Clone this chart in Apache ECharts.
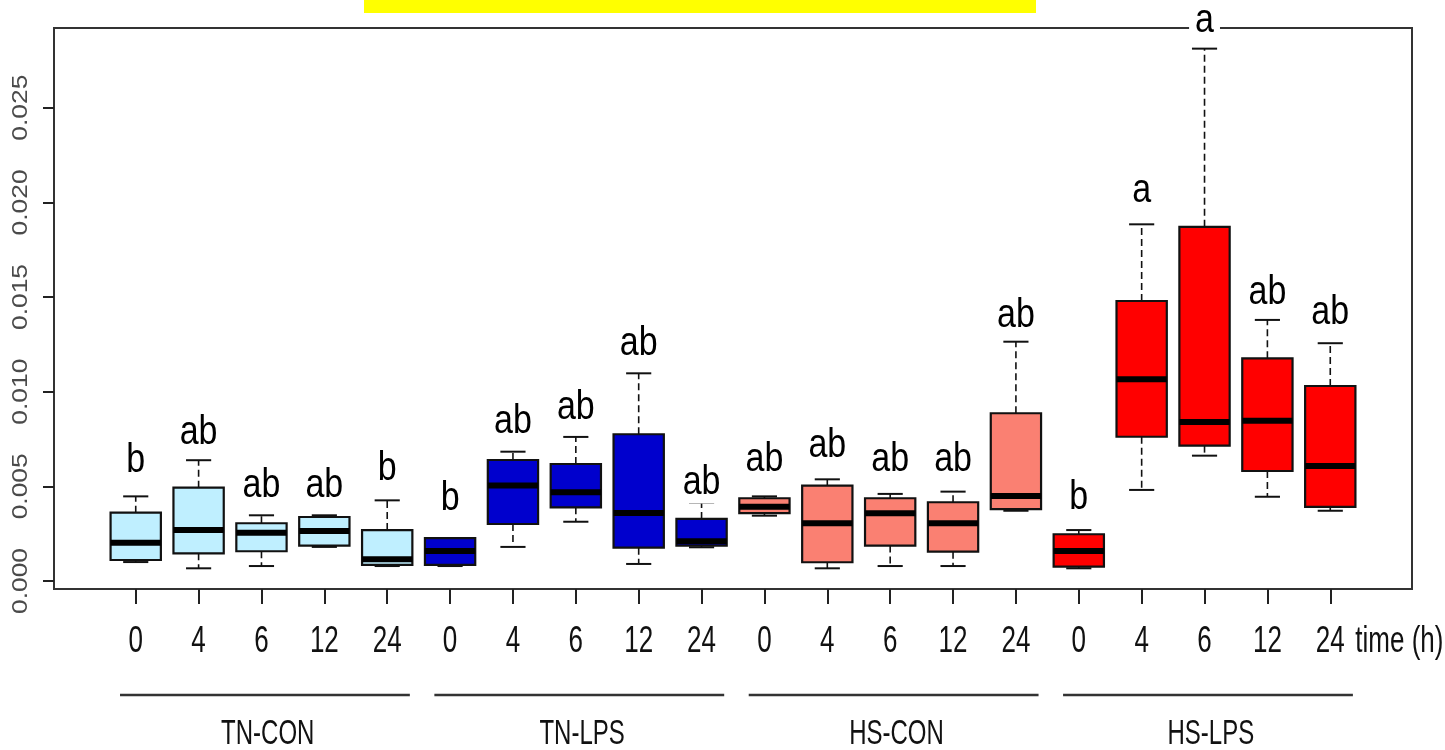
<!DOCTYPE html>
<html><head><meta charset="utf-8">
<script src="https://cdn.jsdelivr.net/npm/echarts@6/dist/echarts.min.js"></script>
<style>html,body{margin:0;padding:0;background:#fff}#c{width:1445px;height:750px}</style>
</head><body><div id="c"></div>
<script>
// ---- data ----
const groups = ['TN-CON', 'TN-LPS', 'HS-CON', 'HS-LPS'];
const groupColors = ['#BFEFFF', '#0000CD', '#FA8072', '#FF0000'];
const timeLabels = ['0', '4', '6', '12', '24'];
const whiskerLow  = [0.00100,0.00067,0.00079,0.00180,0.00079, 0.00079,0.00180,0.00313,0.00090,0.00178, 0.00345,0.00067,0.00079,0.00079,0.00371, 0.00067,0.00481,0.00662,0.00445,0.00371];
const q1          = [0.00111,0.00146,0.00157,0.00187,0.00085, 0.00085,0.00301,0.00389,0.00176,0.00187, 0.00358,0.00099,0.00187,0.00155,0.00380, 0.00076,0.00762,0.00715,0.00581,0.00392];
const median      = [0.00202,0.00269,0.00255,0.00264,0.00115, 0.00158,0.00505,0.00469,0.00359,0.00210, 0.00392,0.00305,0.00358,0.00305,0.00449, 0.00158,0.01065,0.00840,0.00847,0.00607];
const q3          = [0.00361,0.00493,0.00305,0.00338,0.00269, 0.00226,0.00639,0.00618,0.00775,0.00328, 0.00437,0.00504,0.00437,0.00416,0.00886, 0.00247,0.01479,0.01871,0.01176,0.01030];
const whiskerHigh = [0.00447,0.00638,0.00347,0.00347,0.00426, 0.00226,0.00683,0.00761,0.01097,0.00414, 0.00447,0.00537,0.00460,0.00472,0.01264, 0.00269,0.01884,0.02812,0.01379,0.01256];
const letters = ['b','ab','ab','ab','b', 'b','ab','ab','ab','ab', 'ab','ab','ab','ab','ab', 'b','a','a','ab','ab'];
const letterY = [0.00560,0.00708,0.00428,0.00428,0.00518, 0.00359,0.00766,0.00841,0.01178,0.00445, 0.00570,0.00639,0.00570,0.00570,0.01326, 0.00366,0.01991,0.02885,0.01449,0.01342];
const yTicks = [0, 0.005, 0.010, 0.015, 0.020, 0.025];
const timeAxisName = 'time (h)';

// ---- build ----
const positions = whiskerLow.map((_, i) => i + 1);
const boxData = positions.map((p, i) => [p, whiskerLow[i], q1[i], median[i], q3[i], whiskerHigh[i], Math.floor(i / 5)]);
const letterData = positions.map((p, i) => [p, letterY[i]]);
const groupData = groups.map((g, gi) => [gi]);
const Y_MIN = -0.000423, Y_MAX = 0.02921;
const X_MIN = -0.3, X_MAX = 21.3;
const namePos = 21.1;
const xLabelData = positions.concat([namePos]).map(v => [v]);
const yLabelData = yTicks.map(v => [X_MIN, v]);
const FONT = '"Liberation Sans", Arial, sans-serif';

const chart = echarts.init(document.getElementById('c'), null, {renderer: 'canvas'});

function renderBox(params, api) {
  const x = api.value(0);
  const lo = api.value(1), a = api.value(2), m = api.value(3), b = api.value(4), hi = api.value(5);
  const col = groupColors[api.value(6)];
  const hw = 0.4, cw = 0.2;
  const c = (xx, yy) => api.coord([xx, yy]);
  const children = [];
  const dash = {stroke: '#111', lineWidth: 1.6, lineDash: [7, 4]};
  const solid = {stroke: '#111', lineWidth: 2};
  if (hi > b) {
    const p1 = c(x, b), p2 = c(x, hi);
    children.push({type: 'line', shape: {x1: p1[0], y1: p1[1], x2: p2[0], y2: p2[1]}, style: dash});
  }
  if (lo < a) {
    const p1 = c(x, a), p2 = c(x, lo);
    children.push({type: 'line', shape: {x1: p1[0], y1: p1[1], x2: p2[0], y2: p2[1]}, style: dash});
  }
  let l = c(x - cw, hi), r = c(x + cw, hi);
  children.push({type: 'line', shape: {x1: l[0], y1: l[1], x2: r[0], y2: r[1]}, style: solid});
  l = c(x - cw, lo); r = c(x + cw, lo);
  children.push({type: 'line', shape: {x1: l[0], y1: l[1], x2: r[0], y2: r[1]}, style: solid});
  const tl = c(x - hw, b), br = c(x + hw, a);
  children.push({type: 'rect', shape: {x: tl[0], y: tl[1], width: br[0] - tl[0], height: br[1] - tl[1]},
    style: {fill: col, stroke: '#111', lineWidth: 2.2}});
  l = c(x - hw, m); r = c(x + hw, m);
  children.push({type: 'line', shape: {x1: l[0], y1: l[1], x2: r[0], y2: r[1]}, style: {stroke: '#000', lineWidth: 6}});
  return {type: 'group', children};
}

function renderLetter(params, api) {
  const p = api.coord([api.value(0), api.value(1)]);
  return {
    type: 'text', x: p[0], y: p[1] - 14, scaleY: 1.22,
    style: {text: letters[params.dataIndex], font: '34px ' + FONT, fill: '#000',
      align: 'center', verticalAlign: 'middle', backgroundColor: '#fff', padding: [0, 6]}
  };
}

function renderXLabel(params, api) {
  const v = api.value(0);
  const p = api.coord([v, Y_MIN]);
  const txt = v > 20.5 ? timeAxisName : timeLabels[(Math.round(v) - 1) % 5];
  return {
    type: 'text', x: p[0], y: p[1] + 53, scaleY: 1.4,
    style: {text: txt, font: '26px ' + FONT, fill: '#111', align: 'center', verticalAlign: 'middle'}
  };
}

function renderYLabel(params, api) {
  const p = api.coord([api.value(0), api.value(1)]);
  return {
    type: 'text', x: p[0] - 33, y: p[1], rotation: Math.PI / 2, scaleX: 1.2,
    style: {text: api.value(1).toFixed(3), font: '22px ' + FONT, fill: '#4a4a4a', align: 'center', verticalAlign: 'middle'}
  };
}

function renderGroup(params, api) {
  const g = api.value(0);
  const x0 = api.coord([5 * g + 0.75, Y_MIN])[0];
  const x1 = api.coord([5 * g + 5.36, Y_MIN])[0];
  const xc = api.coord([5 * g + 3.1, Y_MIN])[0];
  const base = api.coord([0, Y_MIN])[1];
  return {type: 'group', children: [
    {type: 'line', shape: {x1: x0, y1: base + 106, x2: x1, y2: base + 106}, style: {stroke: '#333', lineWidth: 2.5}},
    {type: 'text', x: xc, y: base + 145, scaleY: 1.45,
      style: {text: groups[g], font: '24px ' + FONT, fill: '#111', align: 'center', verticalAlign: 'middle'}}
  ]};
}

chart.setOption({
  animation: false,
  backgroundColor: '#fff',
  textStyle: {fontFamily: FONT},
  graphic: [{type: 'rect', left: 364, top: 0, shape: {width: 672, height: 13}, style: {fill: '#FFFF00'}}],
  grid: {left: 54, right: 33, top: 28, bottom: 161, show: true, borderColor: '#333', borderWidth: 2, backgroundColor: '#fff'},
  xAxis: {
    type: 'value', min: X_MIN, max: X_MAX, position: 'bottom',
    axisLine: {show: false, onZero: false}, splitLine: {show: false},
    axisTick: {show: true, length: 15, lineStyle: {color: '#222', width: 2}, customValues: positions},
    axisLabel: {show: false}
  },
  yAxis: {
    type: 'value', min: Y_MIN, max: Y_MAX, position: 'left',
    axisLine: {show: false, onZero: false}, splitLine: {show: false},
    axisTick: {show: true, length: 11, lineStyle: {color: '#222', width: 2}, customValues: yTicks},
    axisLabel: {show: false}
  },
  series: [
    {type: 'custom', name: 'boxes', renderItem: renderBox, data: boxData, encode: {x: 0, y: [1, 2, 3, 4, 5]}, z: 2},
    {type: 'custom', name: 'letters', renderItem: renderLetter, data: letterData, encode: {x: 0, y: 1}, z: 3},
    {type: 'custom', name: 'xLabels', renderItem: renderXLabel, data: xLabelData, encode: {x: 0}, clip: false, z: 3},
    {type: 'custom', name: 'yLabels', renderItem: renderYLabel, data: yLabelData, encode: {x: 0, y: 1}, clip: false, z: 3},
    {type: 'custom', name: 'groups', renderItem: renderGroup, data: groupData, encode: {x: 0}, clip: false, z: 3}
  ]
});
</script></body></html>
